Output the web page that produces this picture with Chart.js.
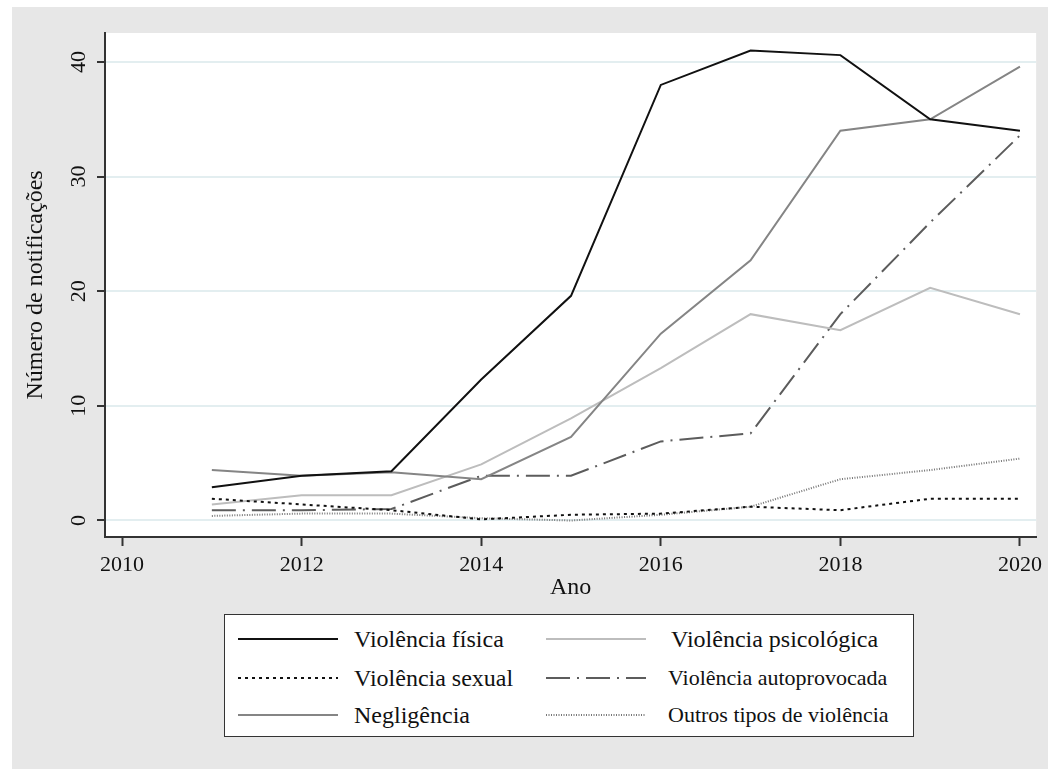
<!DOCTYPE html>
<html>
<head>
<meta charset="utf-8">
<script src="https://cdn.jsdelivr.net/npm/chart.js@4/dist/chart.umd.min.js"></script>
<style>
    body { margin: 0; background: #fff; font-family: "Liberation Serif", serif; }
    #wrap { position: absolute; left: 12px; top: 7px; width: 1036px; height: 762px; background: #e7e7e7; }
    #box { position: absolute; left: 0; top: 0; width: 1036px; height: 600px; }
    #legend { position: absolute; left: 212px; top: 607px; width: 688px; height: 121px;
              background: #fff; border: 1.5px solid #333; }
    .item { position: absolute; height: 30px; }
    .item svg { position: absolute; left: 0; top: 10px; }
    .item span { position: absolute; top: 0; white-space: nowrap; color: #111; line-height: 30px; }
</style>
</head>
<body>
<div id="wrap">
    <div id="box"><canvas id="chart"></canvas></div>
    <div id="legend"></div>
</div>
<script>
// Years on the x axis
const years = [2011, 2012, 2013, 2014, 2015, 2016, 2017, 2018, 2019, 2020];

// Number of notifications per type of violence
const fisica      = [2.9, 3.9, 4.3, 12.3, 19.6, 38.0, 41.0, 40.6, 35.0, 34.0];
const sexual      = [1.9, 1.4, 0.9, 0.1, 0.5, 0.6, 1.2, 0.9, 1.9, 1.9];
const negligencia = [4.4, 3.9, 4.2, 3.6, 7.3, 16.3, 22.7, 34.0, 35.0, 39.6];
const psicologica = [1.4, 2.2, 2.2, 4.9, 8.9, 13.3, 18.0, 16.6, 20.3, 18.0];
const autoprov    = [0.9, 0.9, 1.0, 3.9, 3.9, 6.9, 7.6, 18.0, 26.0, 33.6];
const outros      = [0.4, 0.6, 0.6, 0.2, 0.0, 0.5, 1.2, 3.6, 4.4, 5.4];

// Tick labels
const xTicks = [2010, 2012, 2014, 2016, 2018, 2020];
const yTicks = [0, 10, 20, 30, 40];

const series = [
    { label: 'Violência física',          data: fisica,      color: '#111',    dash: [],            size: 24 },
    { label: 'Violência sexual',          data: sexual,      color: '#111',    dash: [3, 4],        size: 24 },
    { label: 'Negligência',               data: negligencia, color: '#858585', dash: [],            size: 24 },
    { label: 'Violência psicológica',     data: psicologica, color: '#bdbdbd', dash: [],            size: 24 },
    { label: 'Violência autoprovocada',   data: autoprov,    color: '#5c5c5c', dash: [24, 7, 2, 7], size: 22 },
    { label: 'Outros tipos de violência', data: outros,      color: '#777',    dash: [1, 1.5],      size: 22 }
];

const FONT = '"Liberation Serif", "Times New Roman", serif';

// white plot region + rotated y tick labels (Stata style)
const plotStyle = {
    id: 'plotStyle',
    beforeDraw(chart) {
        const a = chart.chartArea;
        const ctx = chart.ctx;
        ctx.save();
        ctx.fillStyle = '#fff';
        ctx.fillRect(a.left, a.top, a.right - a.left, a.bottom - a.top);
        ctx.restore();
    },
    afterDraw(chart) {
        const y = chart.scales.y;
        const ctx = chart.ctx;
        ctx.save();
        ctx.font = '22px ' + FONT;
        ctx.fillStyle = '#111';
        ctx.textAlign = 'center';
        ctx.textBaseline = 'middle';
        yTicks.forEach(function(v) {
            ctx.save();
            ctx.translate(67, y.getPixelForValue(v));
            ctx.rotate(-Math.PI / 2);
            ctx.fillText(String(v), 0, 0);
            ctx.restore();
        });
        ctx.restore();
    }
};

const ctx = document.getElementById('chart').getContext('2d');
const chart = new Chart(ctx, {
    type: 'line',
    data: {
        datasets: series.map(function(s) {
            return {
                label: s.label,
                data: years.map((yr, i) => ({ x: yr, y: s.data[i] })),
                borderColor: s.color,
                borderDash: s.dash,
                borderWidth: 2,
                pointRadius: 0,
                tension: 0,
                fill: false
            };
        })
    },
    options: {
        responsive: true,
        maintainAspectRatio: false,
        animation: false,
        layout: { padding: { top: 26, right: 2, left: 0, bottom: 0 } },
        plugins: { legend: { display: false }, tooltip: { enabled: false } },
        scales: {
            x: {
                type: 'linear',
                min: 2009.81,
                max: 2020.18,
                afterBuildTicks: s => { s.ticks = xTicks.map(v => ({ value: v })); },
                afterFit: s => { s.height = 70; },
                border: { color: '#333', width: 2 },
                grid: { drawOnChartArea: false, drawTicks: true, tickLength: 9, tickColor: '#333', tickWidth: 2 },
                ticks: { color: '#111', font: { family: FONT, size: 22 }, padding: 6, maxRotation: 0,
                         callback: v => String(v) },
                title: { display: true, text: 'Ano', color: '#111', font: { family: FONT, size: 24 },
                         padding: { top: 0, bottom: 5 } }
            },
            y: {
                min: -1.44,
                max: 42.53,
                afterBuildTicks: s => { s.ticks = yTicks.map(v => ({ value: v })); },
                afterFit: s => { s.width = 93; },
                border: { color: '#333', width: 2 },
                grid: { color: '#e3eef0', lineWidth: 2, drawTicks: true, tickLength: 8, tickColor: '#333', tickWidth: 2 },
                ticks: { display: false },
                title: { display: true, text: 'Número de notificações', color: '#111',
                         font: { family: FONT, size: 24 }, padding: { top: 9, bottom: 0 } }
            }
        }
    },
    plugins: [plotStyle]
});

// legend, two columns like the original
function buildLegend() {
    const legend = document.getElementById('legend');
    const order = [0, 3, 1, 4, 2, 5];
    const rowsY = [9, 48, 85];
    order.forEach(function(idx, k) {
        const s = series[idx];
        const col = k % 2, row = Math.floor(k / 2);
        const item = document.createElement('div');
        item.className = 'item';
        item.style.left = (col === 0 ? 13 : 321) + 'px';
        item.style.top = rowsY[row] + 'px';
        const svg = '<svg width="100" height="10"><line x1="0" y1="5" x2="100" y2="5" stroke="' + s.color +
            '" stroke-width="2" stroke-dasharray="' + (s.dash.length ? s.dash.join(',') : 'none') + '"/></svg>';
        const textLeft = col === 0 ? 116 : (row === 0 ? 125 : 122);
        item.innerHTML = svg + '<span style="left:' + textLeft + 'px;font-size:' + s.size + 'px">' + s.label + '</span>';
        legend.appendChild(item);
    });
}
buildLegend();
</script>
</body>
</html>
